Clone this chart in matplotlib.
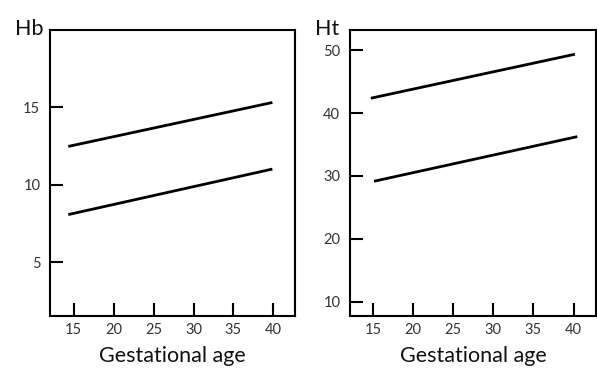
import matplotlib
matplotlib.use("Agg")
import matplotlib.pyplot as plt

plt.rcParams['font.family'] = ['Lato', 'DejaVu Sans']

# Data
hb_x = [14.5, 39.7]
hb_upper = [12.5, 15.3]
hb_lower = [8.1, 11.0]
hb_yticks = [5, 10, 15]

ht_x_upper = [14.9, 40.0]
ht_upper = [42.4, 49.3]
ht_x_lower = [15.3, 40.3]
ht_lower = [29.2, 36.2]
ht_yticks = [10, 20, 30, 40, 50]

xticks = [15, 20, 25, 30, 35, 40]

fig = plt.figure(figsize=(5.97, 3.71), dpi=100)
fig.patch.set_facecolor('white')

W, H = 597, 371
def axpos(x0, x1, y0, y1):
    return [x0 / W, 1 - y1 / H, (x1 - x0) / W, (y1 - y0) / H]

ax1 = fig.add_axes(axpos(50, 295, 30, 316))
ax2 = fig.add_axes(axpos(350, 596, 30, 316))

def style(ax, yticks, ylim, xlim, ylabel, label_x):
    ax.set_xlim(*xlim)
    ax.set_ylim(*ylim)
    ax.set_xticks(xticks)
    ax.set_yticks(yticks)
    for s in ax.spines.values():
        s.set_linewidth(1.5)
        s.set_color('black')
    ax.tick_params(axis='both', direction='in', length=9.5, width=1.5,
                   colors='black', labelcolor='#333333', labelsize=10.5)
    ax.tick_params(axis='y', pad=7)
    ax.tick_params(axis='x', pad=5)
    ax.set_xlabel('Gestational age', fontsize=15.5, color='#111111')
    ax.xaxis.set_label_coords(0.5, -0.161)
    ax.xaxis.label.set_va('baseline')
    fig.text(label_x / W, 1 - 35 / H, ylabel, fontsize=15.5, color='#111111',
             va='baseline', ha='left')

ax1.plot(hb_x, hb_upper, color='black', lw=2)
ax1.plot(hb_x, hb_lower, color='black', lw=2)
style(ax1, hb_yticks, (1.53, 20.0), (12.04, 42.7), 'Hb', 15)

ax2.plot(ht_x_upper, ht_upper, color='black', lw=2)
ax2.plot(ht_x_lower, ht_lower, color='black', lw=2)
style(ax2, ht_yticks, (7.73, 53.2), (12.14, 42.8), 'Ht', 315)

fig.savefig('out.png', dpi=100, facecolor='white')
